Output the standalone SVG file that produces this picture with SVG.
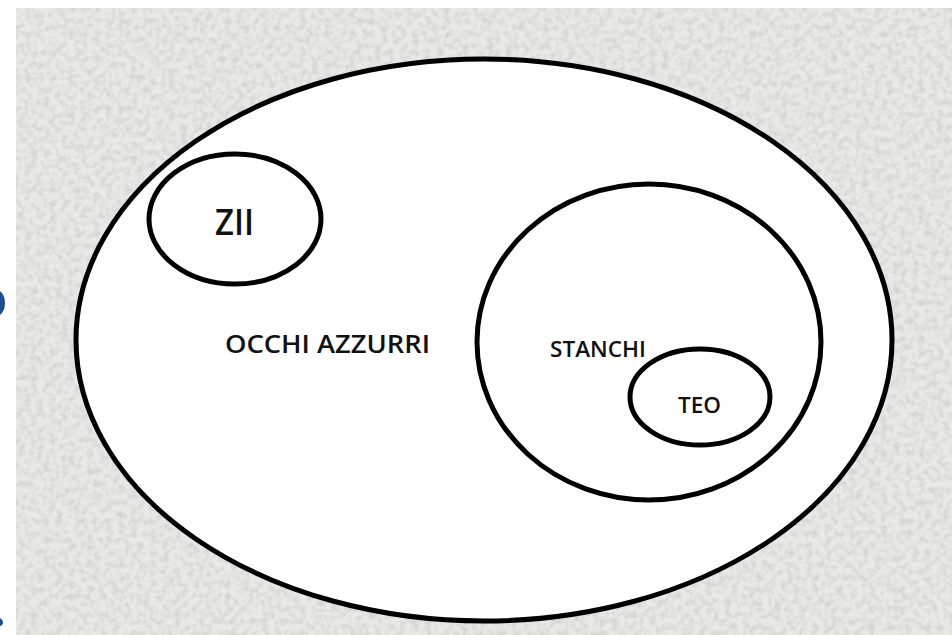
<svg xmlns="http://www.w3.org/2000/svg" width="952" height="635" viewBox="0 0 952 635">
  <style>
    .set { fill: #ffffff; stroke: #000000; stroke-width: 5; }
    .lbl { font-family: "Open Sans", "Liberation Sans", sans-serif; fill: #111111; font-weight: 600; }
  </style>
  <defs>
    <filter id="grain" x="0" y="0" width="100%" height="100%">
      <feTurbulence type="fractalNoise" baseFrequency="0.16" numOctaves="2" seed="7" result="n"/>
      <feColorMatrix in="n" type="matrix" values="0 0 0 0 0.55  0 0 0 0 0.55  0 0 0 0 0.54  0 0 0 -2.2 1.35" />
    </filter>
  </defs>
  <rect x="0" y="0" width="952" height="635" fill="#ffffff"/>
  <g id="background">
    <rect x="16" y="8" width="936" height="627" fill="#e8e8e6"/>
    <rect x="16" y="8" width="936" height="627" filter="url(#grain)" opacity="0.55"/>
  </g>
  <g id="marks" fill="#1f4e8c">
    <path d="M0 291 Q5 295 5 303 Q5 311 0 315 Z"/>
    <path d="M0 618 Q3 620 3 622 Q3 625 0 626 Z"/>
  </g>
  <g id="connectors"></g>
  <g id="occhi-azzurri">
    <ellipse class="set" cx="484" cy="340" rx="408" ry="281"/>
    <text class="lbl" x="225" y="353" font-size="25" textLength="205" lengthAdjust="spacingAndGlyphs">OCCHI AZZURRI</text>
  </g>
  <g id="zii">
    <ellipse class="set" cx="235" cy="219" rx="86" ry="65"/>
    <text class="lbl" x="215" y="235" font-size="36" textLength="39" lengthAdjust="spacingAndGlyphs">ZII</text>
  </g>
  <g id="stanchi">
    <ellipse class="set" cx="649" cy="342" rx="172" ry="158"/>
    <text class="lbl" x="550" y="357" font-size="22" textLength="96" lengthAdjust="spacingAndGlyphs">STANCHI</text>
  </g>
  <g id="teo">
    <ellipse class="set" cx="700" cy="397" rx="70" ry="48"/>
    <text class="lbl" x="678" y="413" font-size="22" textLength="43" lengthAdjust="spacingAndGlyphs">TEO</text>
  </g>
</svg>
